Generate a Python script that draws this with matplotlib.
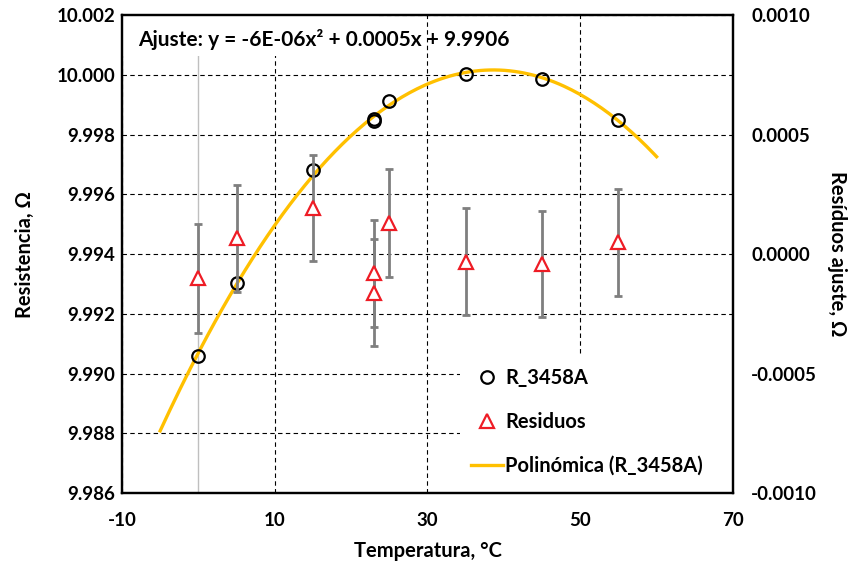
import numpy as np
import matplotlib
matplotlib.use('Agg')
import matplotlib.pyplot as plt
from matplotlib.patches import Rectangle
from matplotlib.lines import Line2D

plt.rcParams['font.family'] = ['Lato', 'DejaVu Sans']
plt.rcParams['font.weight'] = 'bold'
plt.rcParams['axes.unicode_minus'] = False

# datos
temp = [0, 5, 15, 23, 23, 25, 35, 45, 55]
resist = [9.99060, 9.99304, 9.99680, 9.99853, 9.99845, 9.99912, 10.00004, 9.99986, 9.99850]
resid = [-0.000102, 0.000066, 0.000194, -0.000081, -0.000162, 0.000130, -0.000032, -0.000040, 0.000049]
resid_err = [0.000227, 0.000224, 0.000222, 0.000223, 0.000223, 0.000225, 0.000223, 0.000222, 0.000225]
fit_range = (-5, 60)
ajuste_txt = 'Ajuste: y = -6E-06x² + 0.0005x + 9.9906'

fs_tick = 13.5
fs = 14.5
fig = plt.figure(figsize=(8.53, 5.68), dpi=100)
ax = fig.add_axes([0.1430, 0.1320, 0.7163, 0.8416])
ax2 = ax.twinx()

ax.set_xlim(-10, 70)
ax.set_ylim(9.986, 10.002)
ax2.set_ylim(-0.001, 0.001)
ax.set_xticks([-10, 10, 30, 50, 70])
ax.set_yticks(np.arange(9.986, 10.0021, 0.002))
ax.set_yticklabels([f'{v:.3f}' for v in np.arange(9.986, 10.0021, 0.002)])
ax2.set_yticks([-0.001, -0.0005, 0, 0.0005, 0.001])
ax2.set_yticklabels(['-0.0010', '-0.0005', '0.0000', '0.0005', '0.0010'])

ax.set_axisbelow(True)
ax.grid(True, color='black', linestyle=(0, (4, 3)), linewidth=0.8)
ax.axvline(0, color='#BFBFBF', linewidth=1, zorder=0.6)
# fondo blanco del texto del ajuste y de la leyenda
ax.add_patch(Rectangle((0, 0.914), 0.42, 0.086, transform=ax.transAxes,
                       facecolor='white', edgecolor='none', zorder=1))
ax.add_patch(Rectangle((0.553, 0), 0.447, 0.289, transform=ax.transAxes,
                       facecolor='white', edgecolor='none', zorder=1))

for s in ax.spines.values():
    s.set_linewidth(1.6)
for s in ax2.spines.values():
    s.set_linewidth(1.6)

ax.tick_params(axis='both', length=0, labelsize=fs_tick)
ax.tick_params(axis='x', pad=14)
ax.tick_params(axis='y', pad=5)
ax2.tick_params(axis='y', length=0, labelsize=fs_tick, pad=13)

# tendencia polinomica
coef = np.polyfit(temp, resist, 2)
xf = np.linspace(fit_range[0], fit_range[1], 200)
ax.plot(xf, np.polyval(coef, xf), color='#FFC000', linewidth=2.4, zorder=3)
ax.plot(temp, resist, linestyle='none', marker='o', ms=9, mew=1.6,
        mfc='none', mec='black', zorder=4)

ax2.errorbar(temp, resid, yerr=resid_err, fmt='none', ecolor='#7F7F7F',
             elinewidth=2, capsize=2.6, capthick=2, zorder=2)
ax2.plot(temp, resid, linestyle='none', marker='^', ms=10, mew=1.6,
         mfc='white', mec='#EE1C25', zorder=3)

ax.set_xlabel('Temperatura, °C', fontsize=fs, fontweight='bold', labelpad=8)
ax.set_ylabel('Resistencia, Ω', fontsize=fs, fontweight='bold', labelpad=15)
ax2.set_ylabel('Resíduos ajuste, Ω', fontsize=fs, fontweight='bold',
               rotation=-90, labelpad=22)

ax2.text(0.026, 0.948, ajuste_txt, transform=ax.transAxes, fontsize=15,
         fontweight='bold', va='center', ha='left', zorder=5)

handles = [Line2D([], [], linestyle='none', marker='o', ms=9, mew=1.6, mfc='none', mec='black'),
           Line2D([], [], linestyle='none', marker='^', ms=10, mew=1.6, mfc='white', mec='#EE1C25'),
           Line2D([], [], color='#FFC000', linewidth=2.4)]
ax2.legend(handles, ['R_3458A', 'Residuos', 'Polinómica (R_3458A)'],
           loc='upper left', bbox_to_anchor=(0.571, 0.262), frameon=False,
           fontsize=fs, borderpad=0, borderaxespad=0, handlelength=1.6,
           handletextpad=0.1, labelspacing=1.2)

fig.savefig('out.png', dpi=100)
